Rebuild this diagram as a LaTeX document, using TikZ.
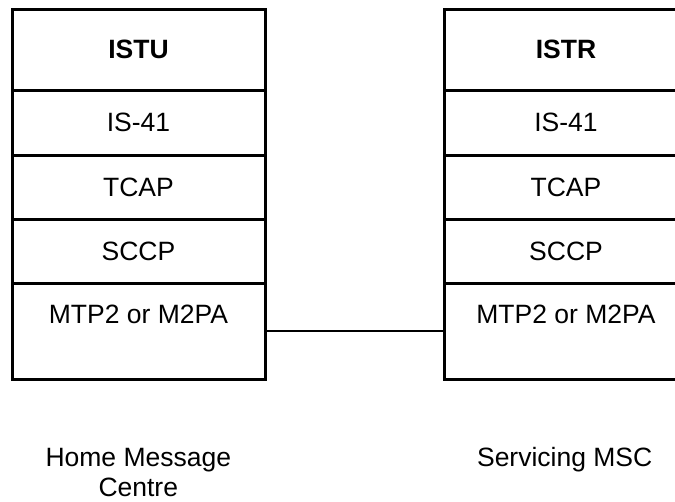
\documentclass[tikz,border=0pt]{standalone}
\usepackage{fontspec}
\setmainfont{Liberation Sans}
\begin{document}
\begin{tikzpicture}[x=1pt,y=-1pt,
  row/.style={draw=black,line width=3pt,inner sep=0pt,minimum width=#1},
  lbl/.style={inner sep=0pt,font=\fontsize{26.5}{30}\selectfont},
  link/.style={draw=black,line width=2pt}]
\useasboundingbox (0,0) rectangle (675,501);
\clip (0,0) rectangle (675,501);
\fill[white] (0,0) rectangle (675,501);
% left stack
\node[row=253,minimum height=81,lbl] (istu) at (138.5,49.5) {\textbf{ISTU}};
\node[row=253,minimum height=65,lbl] (isL) at (138.5,122.5) {IS-41};
\node[row=253,minimum height=64,lbl] (tcL) at (138.5,187) {TCAP};
\node[row=253,minimum height=64,lbl] (scL) at (138.5,251) {SCCP};
\node[row=253,minimum height=96] (mtL) at (138.5,331) {};
\node[lbl] (mtLt) at (138.5,314) {MTP2 or M2PA};
% right stack
\node[row=244,minimum height=81,lbl] (istr) at (566,49.5) {\textbf{ISTR}};
\node[row=244,minimum height=65,lbl] (isR) at (566,122.5) {IS-41};
\node[row=244,minimum height=64,lbl] (tcR) at (566,187) {TCAP};
\node[row=244,minimum height=64,lbl] (scR) at (566,251) {SCCP};
\node[row=244,minimum height=96] (mtR) at (566,331) {};
\node[lbl] (mtRt) at (566,314) {MTP2 or M2PA};
% link
\draw[link] (mtL.east) -- (mtR.west);
% labels
\node[lbl,anchor=base,align=center] (home) at (138.3,496.5) {Home Message\\Centre};
\node[lbl,anchor=base] (serv) at (564.7,466.7) {Servicing MSC};
\end{tikzpicture}
\end{document}
